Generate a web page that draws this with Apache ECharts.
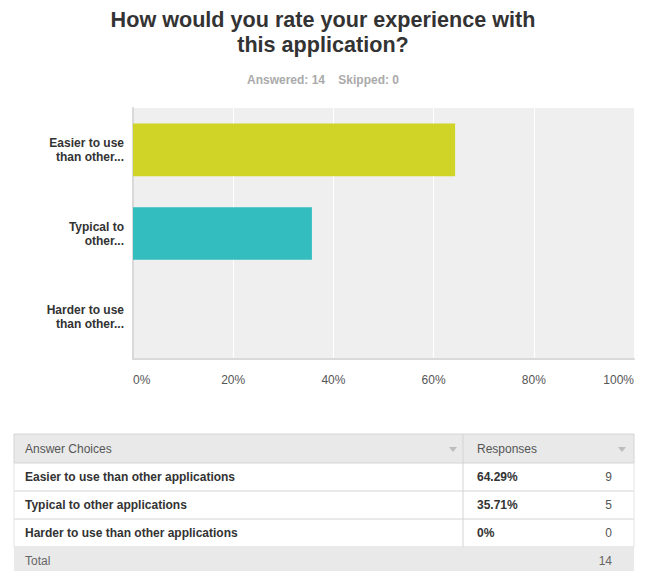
<!DOCTYPE html>
<html><head><meta charset="utf-8">
<script src="https://cdn.jsdelivr.net/npm/echarts@6/dist/echarts.min.js"></script>
<style>html,body{margin:0;padding:0;background:#fff}#c{width:646px;height:571px}</style>
</head><body><div id="c"></div>
<script>
// Survey question results
const categories = ['Easier to use\nthan other...', 'Typical to\nother...', 'Harder to use\nthan other...'];
const choiceNames = ['Easier to use than other applications', 'Typical to other applications', 'Harder to use than other applications'];
const percentages = [64.29, 35.71, 0];
const counts = [9, 5, 0];
const barColors = ['#cfd427', '#33bdbe', '#e8743b'];
const tickLabels = ['0%', '20%', '40%', '60%', '80%', '100%'];
const answered = 14;
const skipped = 0;
const total = 14;

const FONT = '"Liberation Sans", Arial, sans-serif';

const els = [];
// Heading and response summary
els.push({ type: 'text', style: { x: 323, y: 7, text: 'How would you rate your experience with\nthis application?', font: 'bold 21.6px ' + FONT, fill: '#333', align: 'center', lineHeight: 25 } });
els.push({ type: 'text', style: { x: 323, y: 80, text: 'Answered: ' + answered + '    Skipped: ' + skipped, font: 'bold 12px ' + FONT, fill: '#aaa', align: 'center', verticalAlign: 'middle' } });

// Summary table under the chart
const tX0 = 14, tX1 = 634, tDiv = 463, tTop = 434, headH = 29, rowH = 28;
els.push({ type: 'rect', shape: { x: tX0, y: tTop, width: tX1 - tX0, height: headH }, style: { fill: '#e9e9e9', stroke: '#d4d4d4', lineWidth: 1 } });
els.push({ type: 'text', style: { x: 25, y: tTop + headH / 2, text: 'Answer Choices', font: '12px ' + FONT, fill: '#555', verticalAlign: 'middle' } });
els.push({ type: 'text', style: { x: 477, y: tTop + headH / 2, text: 'Responses', font: '12px ' + FONT, fill: '#555', verticalAlign: 'middle' } });
[453, 622].forEach(function (cx) {
  els.push({ type: 'polygon', shape: { points: [[cx - 4, tTop + 13], [cx + 4, tTop + 13], [cx, tTop + 18]] }, style: { fill: '#bdbdbd' } });
});
choiceNames.forEach(function (name, i) {
  const y = tTop + headH + i * rowH;
  els.push({ type: 'line', shape: { x1: tX0, y1: y + rowH, x2: tX1, y2: y + rowH }, style: { stroke: '#d4d4d4', lineWidth: 1 } });
  els.push({ type: 'text', style: { x: 25, y: y + rowH / 2, text: name, font: 'bold 12px ' + FONT, fill: '#333', verticalAlign: 'middle' } });
  els.push({ type: 'text', style: { x: 477, y: y + rowH / 2, text: percentages[i] + '%', font: 'bold 12px ' + FONT, fill: '#333', verticalAlign: 'middle' } });
  els.push({ type: 'text', style: { x: 612, y: y + rowH / 2, text: String(counts[i]), font: '12px ' + FONT, fill: '#555', align: 'right', verticalAlign: 'middle' } });
});
const totY = tTop + headH + choiceNames.length * rowH;
els.push({ type: 'line', shape: { x1: tDiv, y1: tTop, x2: tDiv, y2: totY }, style: { stroke: '#d4d4d4', lineWidth: 1 } });
els.push({ type: 'line', shape: { x1: tX0, y1: tTop + headH, x2: tX0, y2: totY }, style: { stroke: '#e4e4e4', lineWidth: 1 } });
els.push({ type: 'line', shape: { x1: tX1, y1: tTop + headH, x2: tX1, y2: totY }, style: { stroke: '#e4e4e4', lineWidth: 1 } });
els.push({ type: 'rect', shape: { x: tX0, y: totY, width: tX1 - tX0, height: rowH }, style: { fill: '#e9e9e9' } });
els.push({ type: 'text', style: { x: 25, y: totY + rowH / 2, text: 'Total', font: '12px ' + FONT, fill: '#666', verticalAlign: 'middle' } });
els.push({ type: 'text', style: { x: 612, y: totY + rowH / 2, text: String(total), font: '12px ' + FONT, fill: '#666', align: 'right', verticalAlign: 'middle' } });

const chart = echarts.init(document.getElementById('c'), null, { renderer: 'svg' });
chart.setOption({
  backgroundColor: '#fff',
  animation: false,
  grid: { left: 133, right: 12, top: 108, bottom: 212, show: true, backgroundColor: '#efefef', borderWidth: 0 },
  xAxis: {
    type: 'value', min: 0, max: 100, interval: 20,
    axisLine: { show: true, lineStyle: { color: '#d9d9d9', width: 2 } },
    axisTick: { show: false },
    splitLine: { show: true, lineStyle: { color: '#fff', width: 1 } },
    axisLabel: {
      margin: 15, fontFamily: FONT, fontSize: 12, color: '#555',
      alignMinLabel: 'left', alignMaxLabel: 'right',
      formatter: function (v) { return tickLabels[Math.round(v / 20)]; }
    }
  },
  yAxis: {
    type: 'category', inverse: true, data: categories,
    axisLine: { show: true, lineStyle: { color: '#d9d9d9', width: 2 } },
    axisTick: { show: false },
    axisLabel: { margin: 9, fontFamily: FONT, fontSize: 12, fontWeight: 'bold', color: '#333', lineHeight: 14, align: 'right' }
  },
  series: [{
    type: 'bar', barWidth: '63%',
    data: percentages.map(function (v, i) { return { value: v, itemStyle: { color: barColors[i] } }; })
  }],
  graphic: els
});
</script>
</body></html>
